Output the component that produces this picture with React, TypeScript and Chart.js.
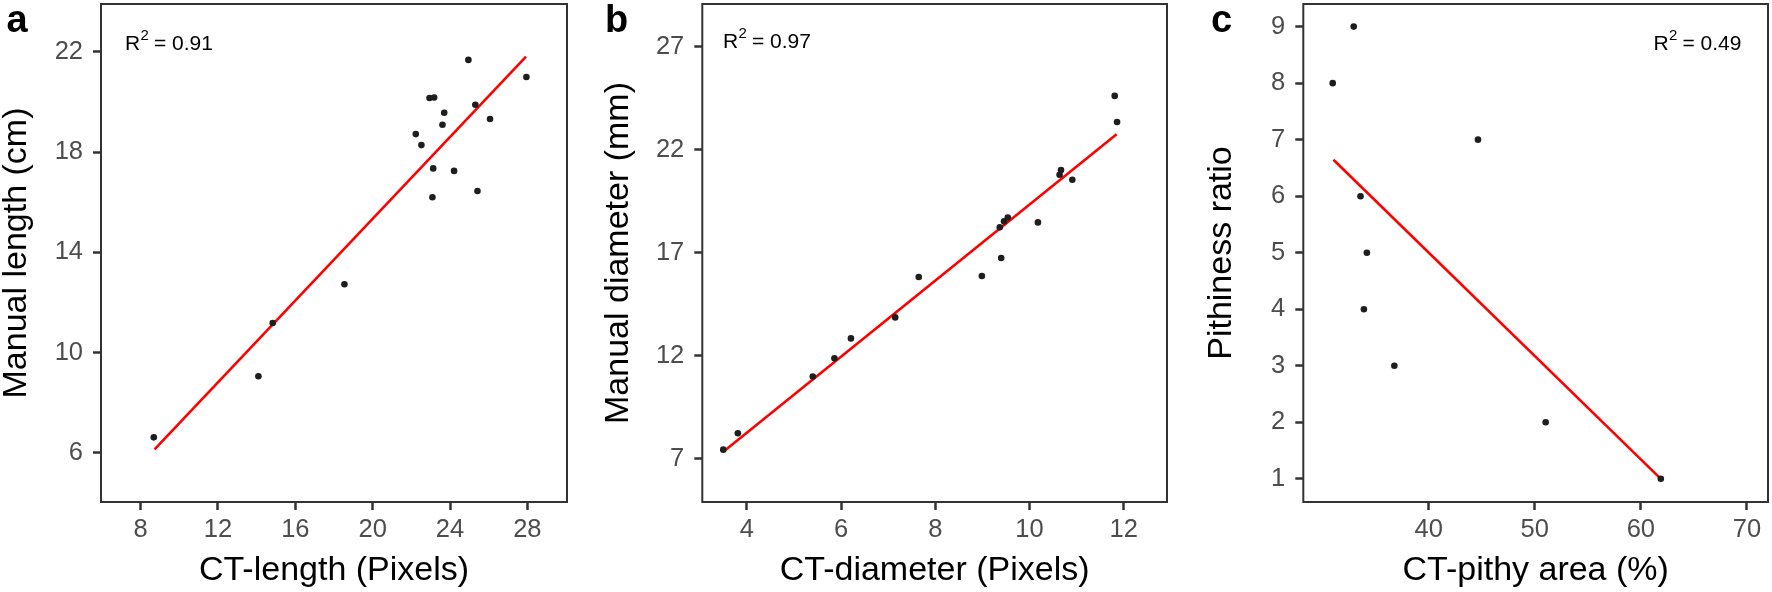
import React, { useEffect, useRef } from "react";
import { Chart, registerables } from "chart.js";

Chart.register(...registerables);

// ---------- Panel a: CT-length vs manual length ----------
const lengthCT = [8.68, 14.09, 14.83, 18.54, 22.23, 22.52, 22.94, 23.18, 23.13, 23.09, 23.61, 23.7, 24.21, 24.95, 25.31, 25.42, 26.07, 27.95];
const lengthManual = [6.62, 9.06, 11.18, 12.73, 18.72, 18.28, 20.16, 20.18, 17.35, 16.2, 19.09, 19.57, 17.25, 21.68, 19.89, 16.45, 19.32, 21.0];
const lengthFitX = [8.72, 27.93];
const lengthFitY = [6.14, 21.81];
const lengthXTicks = [8, 12, 16, 20, 24, 28];
const lengthYTicks = [6, 10, 14, 18, 22];

// ---------- Panel b: CT-diameter vs manual diameter ----------
const diamCT = [3.5, 3.81, 5.4, 5.86, 6.21, 7.15, 7.65, 8.99, 9.4, 9.37, 9.46, 9.54, 10.18, 10.64, 10.67, 10.91, 11.81, 11.86];
const diamManual = [7.44, 8.24, 10.99, 11.88, 12.84, 13.86, 15.82, 15.87, 16.74, 18.23, 18.52, 18.71, 18.47, 20.78, 21.01, 20.54, 24.61, 23.34];
const diamFitX = [3.52, 11.85];
const diamFitY = [7.37, 22.75];
const diamXTicks = [4, 6, 8, 10, 12];
const diamYTicks = [7, 12, 17, 22, 27];

// ---------- Panel c: CT-pithy area vs pithiness ratio ----------
const pithyArea = [30.96, 32.94, 33.58, 34.18, 33.9, 36.77, 44.65, 51.03, 61.88];
const pithinessRatio = [8, 9, 6, 5, 4, 3, 7, 2, 1];
const pithyFitX = [31.03, 61.88];
const pithyFitY = [6.645, 1.0];
const pithyXTicks = [40, 50, 60, 70];
const pithyYTicks = [1, 2, 3, 4, 5, 6, 7, 8, 9];

const FONT = '"Liberation Sans", Arial, sans-serif';
const CANVAS_H = 592;
const AREA_TOP = 3;
const AREA_BOTTOM = 502;

type PanelDef = {
  letter: string;
  letterX: number;
  r2: string;
  r2X: number;
  r2Y: number;
  canvasLeft: number;
  canvasWidth: number;
  areaLeft: number;
  areaRight: number;
  xMin: number;
  xMax: number;
  yMin: number;
  yMax: number;
  xs: number[];
  ys: number[];
  fitX: number[];
  fitY: number[];
  xTicks: number[];
  yTicks: number[];
  xTitle: string;
  yTitle: string;
  yTitlePad: number;
};

const panels: PanelDef[] = [
  {
    letter: "a", letterX: 6.5, r2: "0.91", r2X: 125, r2Y: 50,
    canvasLeft: 0, canvasWidth: 590, areaLeft: 101, areaRight: 567,
    xMin: 5.95, xMax: 30.05, yMin: 4.04, yMax: 23.91,
    xs: lengthCT, ys: lengthManual, fitX: lengthFitX, fitY: lengthFitY,
    xTicks: lengthXTicks, yTicks: lengthYTicks,
    xTitle: "CT-length (Pixels)", yTitle: "Manual length (cm)", yTitlePad: 0,
  },
  {
    letter: "b", letterX: 605, r2: "0.97", r2X: 723, r2Y: 48,
    canvasLeft: 590, canvasWidth: 600, areaLeft: 702.3, areaRight: 1167,
    xMin: 3.055, xMax: 12.92, yMin: 4.9, yMax: 29.07,
    xs: diamCT, ys: diamManual, fitX: diamFitX, fitY: diamFitY,
    xTicks: diamXTicks, yTicks: diamYTicks,
    xTitle: "CT-diameter (Pixels)", yTitle: "Manual diameter (mm)", yTitlePad: 12,
  },
  {
    letter: "c", letterX: 1211, r2: "0.49", r2X: 1653.6, r2Y: 50,
    canvasLeft: 1190, canvasWidth: 582, areaLeft: 1303.3, areaRight: 1768.7,
    xMin: 28.19, xMax: 71.98, yMin: 0.59, yMax: 9.4,
    xs: pithyArea, ys: pithinessRatio, fitX: pithyFitX, fitY: pithyFitY,
    xTicks: pithyXTicks, yTicks: pithyYTicks,
    xTitle: "CT-pithy area (%)", yTitle: "Pithiness ratio", yTitlePad: 15,
  },
];

const decorPlugin = {
  id: "decor",
  afterDatasetsDraw(chart: any) {
    const { ctx, chartArea } = chart;
    ctx.save();
    ctx.strokeStyle = "#333333";
    ctx.lineWidth = 2;
    ctx.strokeRect(chartArea.left, chartArea.top, chartArea.right - chartArea.left, chartArea.bottom - chartArea.top);
    ctx.restore();
  },
  afterDraw(chart: any, _args: any, opts: any) {
    const p: PanelDef = opts.panel;
    if (!p) return;
    const ctx = chart.ctx;
    const off = p.canvasLeft;
    ctx.save();
    ctx.fillStyle = "#000";
    ctx.textBaseline = "alphabetic";
    ctx.textAlign = "left";
    ctx.font = `bold 38px ${FONT}`;
    ctx.fillText(p.letter, p.letterX - off, 31.7);
    // R^2 label
    const x = p.r2X - off;
    const y = p.r2Y;
    ctx.font = `21px ${FONT}`;
    ctx.fillText("R", x, y);
    ctx.font = `15px ${FONT}`;
    ctx.fillText("2", x + 15.5, y - 10);
    ctx.font = `21px ${FONT}`;
    ctx.fillText("=", x + 29, y);
    ctx.fillText(p.r2, x + 47, y);
    ctx.restore();
  },
};

function Panel({ p }: { p: PanelDef }) {
  const ref = useRef<HTMLCanvasElement | null>(null);
  useEffect(() => {
    if (!ref.current) return;
    const areaLeftRel = p.areaLeft - p.canvasLeft;
    const rightPad = p.canvasWidth - (p.areaRight - p.canvasLeft);
    const points = p.xs.map((v, i) => ({ x: v, y: p.ys[i] }));
    const fit = p.fitX.map((v, i) => ({ x: v, y: p.fitY[i] }));
    const tickFont = { family: FONT, size: 25.5 };
    const titleFont = { family: FONT, size: 34, lineHeight: 1 };
    const chart = new Chart(ref.current, {
      type: "scatter",
      data: {
        datasets: [
          {
            data: points,
            pointRadius: 3.3,
            pointBackgroundColor: "#1e1e1e",
            pointBorderWidth: 0,
            order: 0,
          } as any,
          {
            data: fit,
            showLine: true,
            borderColor: "#ff0000",
            borderWidth: 2.6,
            pointRadius: 0,
            order: 1,
          } as any,
        ],
      },
      options: {
        animation: false,
        responsive: false,
        events: [],
        layout: { padding: { top: AREA_TOP, right: rightPad, left: 0, bottom: 0 } },
        plugins: {
          legend: { display: false },
          tooltip: { enabled: false },
          decor: { panel: p },
        } as any,
        scales: {
          x: {
            type: "linear",
            min: p.xMin,
            max: p.xMax,
            border: { display: false },
            grid: { drawOnChartArea: false, drawTicks: true, tickLength: 8, tickWidth: 2.5, tickColor: "#333333" },
            ticks: { font: tickFont, color: "#4d4d4d", padding: 5, maxRotation: 0, autoSkip: false },
            afterBuildTicks: (s: any) => { s.ticks = p.xTicks.map((v) => ({ value: v })); },
            afterFit: (s: any) => {
              s.height = CANVAS_H - AREA_BOTTOM;
              s.paddingLeft = 0;
              s.paddingRight = 0;
            },
            title: { display: true, text: p.xTitle, color: "#000", font: titleFont, padding: { top: 0, bottom: 4 } },
          },
          y: {
            type: "linear",
            min: p.yMin,
            max: p.yMax,
            border: { display: false },
            grid: { drawOnChartArea: false, drawTicks: true, tickLength: 8, tickWidth: 2.5, tickColor: "#333333" },
            ticks: { font: tickFont, color: "#4d4d4d", padding: 10, autoSkip: false },
            afterBuildTicks: (s: any) => { s.ticks = p.yTicks.map((v) => ({ value: v })); },
            afterFit: (s: any) => {
              s.width = areaLeftRel;
              s.paddingTop = 0;
              s.paddingBottom = 0;
            },
            title: { display: true, text: p.yTitle, color: "#000", font: titleFont, padding: { top: p.yTitlePad, bottom: 0 } },
          },
        } as any,
      },
      plugins: [decorPlugin as any],
    });
    return () => chart.destroy();
  }, [p]);
  return (
    <canvas
      ref={ref}
      width={p.canvasWidth}
      height={CANVAS_H}
      style={{ position: "absolute", left: p.canvasLeft, top: 0, width: p.canvasWidth, height: CANVAS_H }}
    />
  );
}

export default function App() {
  return (
    <div style={{ position: "absolute", left: 0, top: 0, width: 1772, height: 592, background: "#fff" }}>
      {panels.map((p) => (
        <Panel key={p.letter} p={p} />
      ))}
    </div>
  );
}
